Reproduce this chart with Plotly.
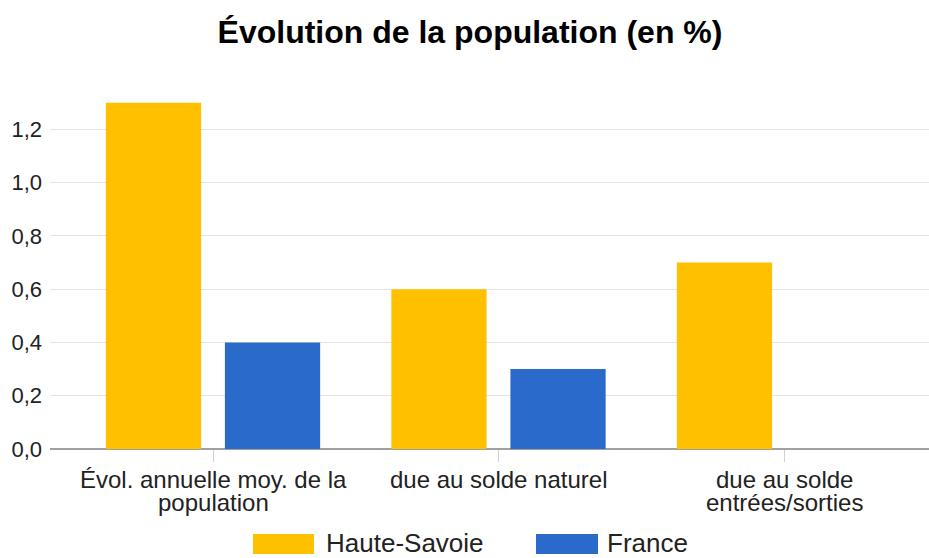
import plotly.graph_objects as go

categories = ["Évol. annuelle moy. de la population", "due au solde naturel", "due au solde entrées/sorties"]
category_lines = [["Évol. annuelle moy. de la", "population"], ["due au solde naturel"], ["due au solde", "entrées/sorties"]]
series_names = ["Haute-Savoie", "France"]
haute_savoie = [1.3, 0.6, 0.7]
france = [0.4, 0.3, 0.0]
tick_vals = [0, 0.2, 0.4, 0.6, 0.8, 1.0, 1.2]
tick_text = ["0,0", "0,2", "0,4", "0,6", "0,8", "1,0", "1,2"]
colors = ["#FFC000", "#2A6ACB"]

FONT = "Liberation Sans, Arial, sans-serif"
W, H = 929, 558
ml, mr, mt, mb = 50, 0, 76, 109
pw, ph = W - ml - mr, H - mt - mb


def px(x):
    return (x - ml) / pw


def py(y):
    return (H - mb - y) / ph


fig = go.Figure()
for name, vals, col in zip(series_names, [haute_savoie, france], colors):
    fig.add_trace(go.Bar(x=categories, y=vals, name=name, marker=dict(color=col, line=dict(width=0)),
                         showlegend=False))

# category labels, one annotation per line (tight line spacing)
for cat, lines in zip(categories, category_lines):
    for i, line in enumerate(lines):
        fig.add_annotation(xref="x", yref="paper", x=cat, y=py(479 + 23 * i), text=line, showarrow=False,
                           xanchor="center", yanchor="middle",
                           font=dict(family=FONT, size=24, color="#222222"))

# custom legend (swatch + label)
legend_items = [(series_names[0], colors[0], 253, 314, 326), (series_names[1], colors[1], 536, 598, 607)]
for name, col, x0, x1, xt in legend_items:
    fig.add_shape(type="rect", xref="paper", yref="paper", x0=px(x0), x1=px(x1), y0=py(554), y1=py(534),
                  fillcolor=col, line=dict(width=0))
    fig.add_annotation(xref="paper", yref="paper", x=px(xt), y=py(543), text=name, showarrow=False,
                       xanchor="left", yanchor="middle", xshift=-2,
                       font=dict(family=FONT, size=26, color="#222222"))

fig.update_layout(
    width=W, height=H,
    margin=dict(l=ml, r=mr, t=mt, b=mb),
    paper_bgcolor="white", plot_bgcolor="white",
    barmode="group", bargap=0.166, bargroupgap=0.2,
    title=dict(text="<b>Évolution de la population (en %)</b>", x=470 / W, xanchor="center",
               y=1 - 32 / H, yanchor="middle",
               font=dict(family=FONT, size=32, color="#000000")),
    font=dict(family=FONT, color="#222222"),
)
fig.update_xaxes(range=[-(213 - ml) / 285.5, 2 + (W - 784) / 285.5], showgrid=False, ticks="outside",
                 ticklen=12, tickcolor="#d0d0d0", tickwidth=1, showline=False, showticklabels=False,
                 fixedrange=True)
fig.update_yaxes(range=[0, 1.4], tickvals=tick_vals, ticktext=tick_text, showgrid=True, gridcolor="#e4e4e4",
                 gridwidth=1.3, zeroline=True, zerolinecolor="#a0a0a0", zerolinewidth=2.3, ticks="",
                 tickfont=dict(size=22, color="#222222"), showline=False, ticklabelstandoff=7,
                 fixedrange=True)

fig.write_html("out.html", config={"displayModeBar": False},
               post_script="document.body.style.margin='0';")
